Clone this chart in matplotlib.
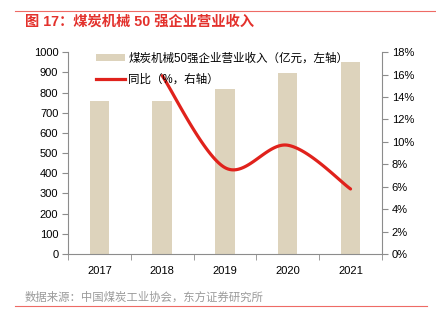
import matplotlib
matplotlib.use('Agg')
import matplotlib.pyplot as plt
import numpy as np

plt.rcParams['font.family'] = ['Liberation Sans', 'Noto Sans CJK SC', 'DejaVu Sans']

# 煤炭机械50强企业营业收入（亿元）与同比（%）
years = ['2017', '2018', '2019', '2020', '2021']
revenue = [760, 760, 817, 897, 950]
yoy_years = ['2018', '2019', '2020', '2021']
yoy = [15.9, 7.7, 9.7, 5.8]


def smooth(xs, ys, n=40):
    # Catmull-Rom style bezier smoothing, like spreadsheet smooth lines
    xs = np.asarray(xs, float)
    ys = np.asarray(ys, float)
    px = np.concatenate([[xs[0]], xs, [xs[-1]]])
    py = np.concatenate([[ys[0]], ys, [ys[-1]]])
    out_x, out_y = [], []
    for i in range(1, len(px) - 2):
        p0 = np.array([px[i], py[i]])
        p3 = np.array([px[i + 1], py[i + 1]])
        c1 = p0 + (np.array([px[i + 1], py[i + 1]]) - np.array([px[i - 1], py[i - 1]])) / 6
        c2 = p3 - (np.array([px[i + 2], py[i + 2]]) - np.array([px[i], py[i]])) / 6
        t = np.linspace(0, 1, n)[:, None]
        pts = (1 - t) ** 3 * p0 + 3 * (1 - t) ** 2 * t * c1 + 3 * (1 - t) * t ** 2 * c2 + t ** 3 * p3
        out_x.extend(pts[:, 0])
        out_y.extend(pts[:, 1])
    return np.array(out_x), np.array(out_y)


bar_color = '#ddd3bc'
line_color = '#e0221c'
axis_color = '#8c8c8c'

fig = plt.figure(figsize=(4.36, 3.25), dpi=100)
ax = fig.add_axes([0.156, 0.2185, 0.72, 0.621])
x = np.arange(len(years))
bars = ax.bar(x, revenue, width=0.31, color=bar_color, zorder=2)
ax.set_xlim(-0.5, len(years) - 0.5)
ax.set_ylim(0, 1000)
ax.set_yticks(np.arange(0, 1001, 100))
ax.set_xticks(x)
ax.set_xticklabels(years)
ax.set_xticks(np.arange(-0.5, len(years)), minor=True)
ax.tick_params(axis='x', which='major', length=0, pad=9, labelsize=8)
ax.tick_params(axis='x', which='minor', length=4, direction='out', color=axis_color)
ax.tick_params(axis='y', length=4, direction='out', color=axis_color, labelsize=8, pad=3)
for s in ['top', 'right']:
    ax.spines[s].set_visible(False)
for s in ['left', 'bottom']:
    ax.spines[s].set_color(axis_color)
    ax.spines[s].set_linewidth(0.8)

ax2 = ax.twinx()
lx = [years.index(y) for y in yoy_years]
sx, sy = smooth(lx, yoy)
ax2.plot(sx, sy, color=line_color, lw=2.3, solid_capstyle='round', zorder=3)
line_handle, = ax2.plot([], [], color=line_color, lw=2.3)
ax2.set_ylim(0, 18)
ax2.set_yticks(np.arange(0, 19, 2))
ax2.set_yticklabels([f'{v}%' for v in range(0, 19, 2)])
ax2.tick_params(axis='y', length=4, direction='out', color=axis_color, labelsize=8, pad=3)
for s in ['top', 'left', 'bottom']:
    ax2.spines[s].set_visible(False)
ax2.spines['right'].set_color(axis_color)
ax2.spines['right'].set_linewidth(0.8)

ax2.legend([bars, line_handle],
           ['煤炭机械50强企业营业收入（亿元，左轴）', '同比（%，右轴）'],
           loc='upper left', bbox_to_anchor=(0.075, 1.02), frameon=False,
           fontsize=8.3, handlelength=2.5, handleheight=0.6, labelspacing=0.75,
           handletextpad=0.3, borderaxespad=0)

# 标题与来源
fig.add_artist(plt.Line2D([15 / 436, 1.0], [1 - 11 / 325] * 2, color='#ee6b65', lw=0.8))
fig.text(25 / 436, 1 - 22 / 325, '图 17：煤炭机械 50 强企业营业收入', color='#e3312c',
         fontsize=10.3, fontweight='bold', va='center', ha='left')
fig.text(25 / 436, 1 - 297 / 325, '数据来源：中国煤炭工业协会，东方证券研究所', color='#9a9a9a',
         fontsize=8.2, va='center', ha='left')
fig.add_artist(plt.Line2D([15 / 436, 427 / 436], [1 - 306 / 325] * 2, color='#ee6b65', lw=0.8))

fig.savefig('out.png', dpi=100)
